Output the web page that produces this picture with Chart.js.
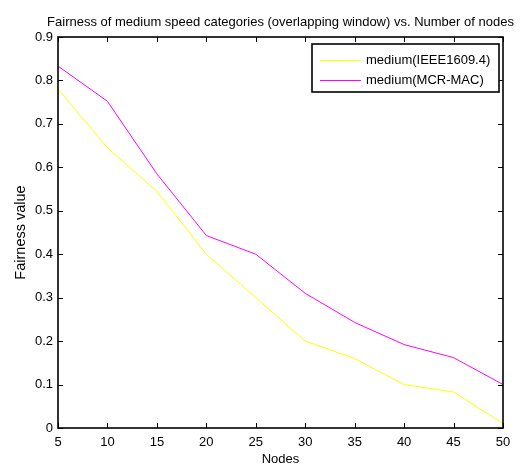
<!DOCTYPE html>
<html>
<head>
<meta charset="utf-8">
<script src="https://cdn.jsdelivr.net/npm/chart.js@4/dist/chart.umd.min.js"></script>
<style>
  html, body { margin: 0; padding: 0; background: #fff; }
  #wrap { width: 523px; height: 465px; }
</style>
</head>
<body>
<div id="wrap"><canvas id="chart" width="523" height="465"></canvas></div>
<script>
const nodes = [5, 10, 15, 20, 25, 30, 35, 40, 45, 50];
const ieeeFairness = [0.78, 0.645, 0.545, 0.40, 0.30, 0.20, 0.16, 0.10, 0.083, 0.01];
const mcrFairness = [0.833, 0.752, 0.585, 0.443, 0.40, 0.31, 0.243, 0.192, 0.162, 0.10];
const seriesNames = ['medium(IEEE1609.4)', 'medium(MCR-MAC)'];
const seriesColors = ['#ffff00', '#ff00ff'];
const chartTitle = 'Fairness of medium speed categories (overlapping window) vs. Number of nodes';

const FONT = 'Arial, "Liberation Sans", sans-serif';

// matlab-style box: frame on all four sides with inward ticks,
// title centred over the axes, legend box in the upper right
const boxAxes = {
  id: 'boxAxes',
  afterDraw(chart) {
    const { ctx, chartArea: a, scales } = chart;
    const tl = 5;
    ctx.save();

    ctx.fillStyle = '#000';
    ctx.font = '13px ' + FONT;
    ctx.textAlign = 'center';
    ctx.textBaseline = 'alphabetic';
    ctx.fillText(chartTitle, (a.left + a.right) / 2, 26);

    ctx.strokeStyle = '#000';
    ctx.lineWidth = 1;
    ctx.beginPath();
    scales.x.ticks.forEach(t => {
      const px = Math.round(scales.x.getPixelForValue(t.value)) + 0.5;
      ctx.moveTo(px, a.bottom); ctx.lineTo(px, a.bottom - tl);
      ctx.moveTo(px, a.top); ctx.lineTo(px, a.top + tl);
    });
    scales.y.ticks.forEach(t => {
      const py = Math.round(scales.y.getPixelForValue(t.value)) + 0.5;
      ctx.moveTo(a.left, py); ctx.lineTo(a.left + tl, py);
      ctx.moveTo(a.right, py); ctx.lineTo(a.right - tl, py);
    });
    ctx.stroke();
    ctx.lineWidth = 1.6;
    ctx.strokeRect(a.left, a.top, a.right - a.left, a.bottom - a.top);

    const lx = 312, ly = 44, lw = 187, lh = 48;
    ctx.fillStyle = '#fff';
    ctx.fillRect(lx, ly, lw, lh);
    ctx.strokeRect(lx, ly, lw, lh);
    ctx.font = '13px ' + FONT;
    ctx.textBaseline = 'middle';
    ctx.textAlign = 'left';
    chart.data.datasets.forEach((ds, i) => {
      const y = ly + 16.5 + i * 20;
      ctx.strokeStyle = ds.borderColor;
      ctx.lineWidth = 1;
      ctx.beginPath();
      ctx.moveTo(lx + 8, y); ctx.lineTo(lx + 49, y);
      ctx.stroke();
      ctx.fillStyle = '#000';
      ctx.fillText(ds.label, lx + 54, y);
    });
    ctx.restore();
  }
};

new Chart(document.getElementById('chart'), {
  type: 'line',
  data: {
    datasets: [ieeeFairness, mcrFairness].map((vals, i) => ({
      label: seriesNames[i],
      data: nodes.map((n, j) => ({ x: n, y: vals[j] })),
      borderColor: seriesColors[i],
      borderWidth: 1,
      pointRadius: 0,
      tension: 0,
      fill: false
    }))
  },
  options: {
    responsive: false,
    animation: false,
    layout: { padding: { left: 0, right: 20, top: 37, bottom: 0 } },
    plugins: {
      legend: { display: false },
      tooltip: { enabled: false },
      title: { display: false }
    },
    scales: {
      x: {
        type: 'linear',
        min: 5, max: 50,
        afterFit(s) { s.height = 37; },
        ticks: { stepSize: 5, color: '#000', padding: 7, font: { family: FONT, size: 13 } },
        grid: { display: false, drawTicks: false },
        border: { display: false },
        title: { display: true, text: 'Nodes', color: '#000', font: { family: FONT, size: 13 }, padding: { top: 0, bottom: -2 } }
      },
      y: {
        min: 0, max: 0.9,
        afterFit(s) { s.width = 58; },
        ticks: { stepSize: 0.1, color: '#000', padding: 5, font: { family: FONT, size: 13 },
          callback: v => Number(v.toFixed(1)).toString() },
        grid: { display: false, drawTicks: false },
        border: { display: false },
        title: { display: true, text: 'Fairness value', color: '#000', font: { family: FONT, size: 14.5 }, padding: { top: 12, bottom: 0 } }
      }
    }
  },
  plugins: [boxAxes]
});
</script>
</body>
</html>
